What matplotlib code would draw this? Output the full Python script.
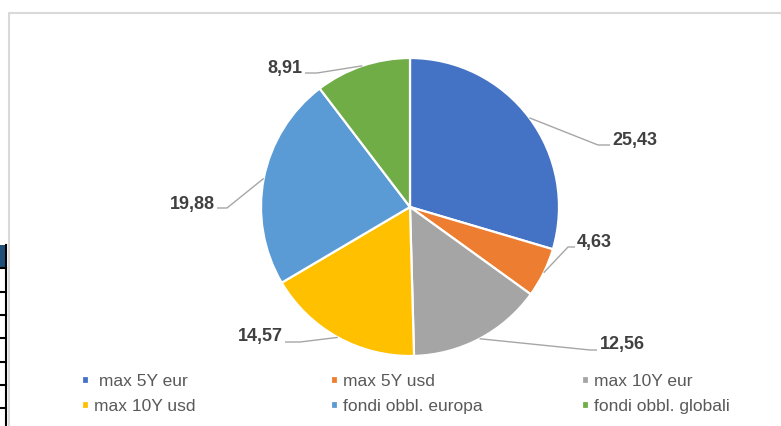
import numpy as np
import matplotlib.pyplot as plt
from matplotlib.patches import Rectangle

plt.rcParams['font.family'] = ['Liberation Sans', 'DejaVu Sans']

# portfolio split
categories = ['max 5Y eur', 'max 5Y usd', 'max 10Y eur', 'max 10Y usd',
              'fondi obbl. europa', 'fondi obbl. globali']
values = [25.43, 4.63, 12.56, 14.57, 19.88, 8.91]
colors = ['#4472C4', '#ED7D31', '#A5A5A5', '#FFC000', '#5B9BD5', '#70AD47']

W, H = 781, 426
# label placement in pixel coords (y down): knee of leader, end of leader, text anchor
label_pos = [
    ((598, 145), (610, 145), (612, 140), 'left'),
    ((568, 247), (575, 247), (577, 242), 'left'),
    ((590, 350), (597, 350), (600, 345), 'left'),
    ((300, 342), (285, 342), (283, 336), 'right'),
    ((227, 208), (217, 208), (215, 205), 'right'),
    ((317, 73), (305, 73), (302, 68), 'right'),
]


def px(x, y):
    return x, H - y


fig = plt.figure(figsize=(W / 100, H / 100), dpi=100)
ax = fig.add_axes([0, 0, 1, 1])

cx, cy = px(410, 207)
r = 149
wedges, _ = ax.pie(values, colors=colors, startangle=90, counterclock=False,
                   center=(cx, cy), radius=r, frame=True,
                   wedgeprops=dict(edgecolor='white', linewidth=1.6))

# data labels with leader lines from the middle of each wedge's arc
for w, v, (knee, end, tpos, ha) in zip(wedges, values, label_pos):
    mid = np.deg2rad((w.theta1 + w.theta2) / 2)
    sx, sy = cx + r * np.cos(mid), cy + r * np.sin(mid)
    kx, ky = px(*knee)
    ex, ey = px(*end)
    ax.plot([sx, kx, ex], [sy, ky, ey], color='#A6A6A6', lw=1.0,
            solid_capstyle='butt', zorder=3)
    tx, ty = px(*tpos)
    ax.text(tx, ty, f'{v:.2f}'.replace('.', ','), ha=ha, va='center',
            fontsize=13, fontweight='bold', color='#404040')

ax.set_xlim(0, W)
ax.set_ylim(0, H)
ax.set_aspect('auto')
ax.axis('off')

# chart area border
ax.plot([8.5, 8.5, W + 5], [0, H - 12.5, H - 12.5], color='#D9D9D9', lw=1.5,
        clip_on=False)

# sheet cells peeking out on the left
ax.add_patch(Rectangle(px(0, 268), 6, 23, facecolor='#1F4E78', edgecolor='none'))
for yy in [268, 292, 315, 338, 362, 385, 408]:
    ax.plot([0, 6], [H - yy, H - yy], color='black', lw=1.5)
ax.plot([6, 6], [0, H - 245], color='black', lw=1.5)

# legend, three columns of two rows
col_x = [82, 331, 582]
for c in range(3):
    idx = [c, c + 3]
    labels = [(' ' if i == 0 else '') + categories[i] for i in idx]
    fig.legend([wedges[i] for i in idx], labels, loc='upper left',
               bbox_to_anchor=(col_x[c] / W, 1 - 374 / H), frameon=False,
               fontsize=12.5, labelcolor='#595959', borderpad=0,
               borderaxespad=0, handlelength=0.4, handleheight=0.36,
               handletextpad=0.3, labelspacing=0.6)

fig.savefig('out.png', dpi=100)
